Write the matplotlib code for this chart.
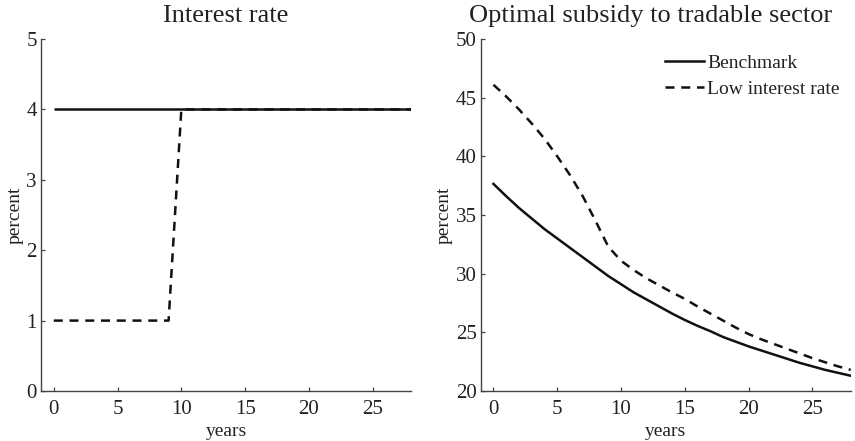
import numpy as np
import matplotlib.pyplot as plt

plt.rcParams['font.family'] = ['Liberation Serif', 'DejaVu Serif']

# data
years = list(range(29))
rate_bench = [4.0] * 29
rate_low_years = [0, 9, 10, 28]
rate_low = [1.0, 1.0, 4.0, 4.0]

subsidy_bench = [37.65, 36.6, 35.6, 34.7, 33.8, 33.0, 32.2, 31.4, 30.6, 29.8,
                 29.1, 28.4, 27.8, 27.2, 26.6, 26.05, 25.55, 25.1, 24.6, 24.2,
                 23.8, 23.45, 23.1, 22.75, 22.4, 22.1, 21.8, 21.55, 21.3]
subsidy_low = [46.1, 45.1, 44.0, 42.8, 41.5, 40.0, 38.4, 36.6, 34.5, 32.3,
               31.1, 30.3, 29.6, 29.0, 28.4, 27.85, 27.2, 26.6, 26.0, 25.4,
               24.85, 24.4, 24.0, 23.6, 23.2, 22.8, 22.45, 22.1, 21.8]

txt = '#222222'
spine_c = '#444444'
line_c = '#111111'
lw = 1.8
dash = (0, (3.6, 2.7))

fig = plt.figure(figsize=(8.55, 4.41), dpi=100)
ax1 = fig.add_axes([41 / 855, 1 - 391 / 441, 370 / 855, 352 / 441])
ax2 = fig.add_axes([480.7 / 855, 1 - 391 / 441, 370 / 855, 352 / 441])


def style(ax, ylim, yticks, title, title_x=0.5):
    ax.set_xlim(-1, 28)
    ax.set_ylim(*ylim)
    ax.set_xticks([0, 5, 10, 15, 20, 25])
    ax.set_yticks(yticks)
    for s in ['top', 'right']:
        ax.spines[s].set_visible(False)
    for s in ['left', 'bottom']:
        ax.spines[s].set_color(spine_c)
        ax.spines[s].set_linewidth(1.0)
    ax.tick_params(direction='in', length=3, width=0.9, colors=spine_c,
                   labelcolor=txt, labelsize=15)
    ax.tick_params(axis='x', pad=6.5)
    ax.tick_params(axis='y', pad=3)
    ax.set_xlabel('years', fontsize=14, color=txt, labelpad=2.5)
    ax.set_ylabel('percent', fontsize=14, color=txt, labelpad=2)
    ax.set_title(title, fontsize=19, color=txt, pad=12, x=title_x)


ax1.plot(years, rate_bench, color=line_c, lw=lw, solid_capstyle='butt')
ax1.plot(rate_low_years, rate_low, color=line_c, lw=lw, linestyle=dash)
style(ax1, (0, 5), [0, 1, 2, 3, 4, 5], 'Interest rate')

ax2.plot(years, subsidy_bench, color=line_c, lw=lw, label='Benchmark')
ax2.plot(years, subsidy_low, color=line_c, lw=lw, linestyle=dash,
         label='Low interest rate')
style(ax2, (20, 50), [20, 25, 30, 35, 40, 45, 50],
      'Optimal subsidy to tradable sector', title_x=0.458)
leg = ax2.legend(loc='upper right', frameon=False, fontsize=14,
                 handlelength=2.0, handletextpad=0.15, labelspacing=0.4,
                 borderaxespad=0.4, bbox_to_anchor=(1.012, 1.0))
for t in leg.get_texts():
    t.set_color(txt)

fig.savefig('out.png', dpi=100)
